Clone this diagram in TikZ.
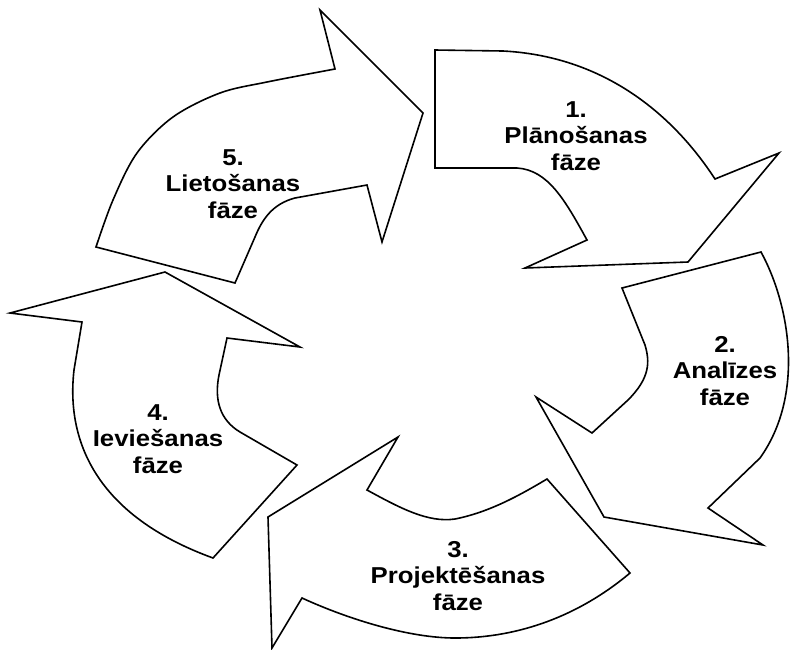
\documentclass[tikz,border=0pt]{standalone}
\usepackage{fontspec}
\setmainfont[FakeStretch=1.12]{Liberation Sans}
\begin{document}
\begin{tikzpicture}[x=1pt,y=-1pt,
  arrowshape/.style={draw=black, fill=white, line width=1.6pt, line join=miter, miter limit=6},
  phase/.style={align=center, font=\bfseries\fontsize{23}{26.5}\selectfont, inner sep=0pt}]
\useasboundingbox[fill=white] (0,0) rectangle (792,649);

% arrow 1
\draw[arrowshape] (435,50) -- (503,51) .. controls (600,56) and (670,110) .. (715,179)
  -- (779,153) -- (688,262) -- (525,268) -- (587,240)
  .. controls (565,200) and (548,170) .. (517,168) -- (435,168) -- cycle;

% arrow 2
\draw[arrowshape] (622,288) -- (761,252)
  .. controls (790,305) and (805,395) .. (760,458) -- (708,508)
  -- (763,545) -- (604,517) -- (536,397) -- (592,433)
  -- (628,400) .. controls (650,378) and (650,362) .. (645,345) -- cycle;

% arrow 3
\draw[arrowshape] (547,479) -- (630,573)
  .. controls (580,615) and (520,638) .. (455,638)
  .. controls (410,638) and (350,620) .. (302,598)
  -- (272,648) -- (268,517) -- (398,437) -- (367,490)
  .. controls (400,508) and (428,523) .. (455,519)
  .. controls (490,512) and (520,495) .. (547,479) -- cycle;

% arrow 4
\draw[arrowshape] (165,272) -- (10,313) -- (82,322) -- (74,370)
  .. controls (66,440) and (95,515) .. (213,558)
  -- (297,465) -- (240,432)
  .. controls (220,420) and (214,400) .. (219,375)
  -- (227,338) -- (300,347) -- cycle;

% arrow 5
\draw[arrowshape] (96,247) -- (235,283) -- (255,237)
  .. controls (262,220) and (272,204) .. (295,198) -- (367,185)
  -- (382,242) -- (423,113) -- (320,10) -- (335,69)
  -- plot[smooth,tension=0.55] coordinates {(335,69) (267,82) (220,93) (173,117) (137,153) (113,200) (96,247)} -- cycle;

\node[phase] (t1) at (576,136) {1.\\Plānošanas\\fāze};
\node[phase] (t2) at (725,371) {2.\\Analīzes\\fāze};
\node[phase] (t3) at (458,576) {3.\\Projektēšanas\\fāze};
\node[phase] (t4) at (158,439) {4.\\Ieviešanas\\fāze};
\node[phase] (t5) at (233,184) {5.\\Lietošanas\\fāze};
\end{tikzpicture}
\end{document}
